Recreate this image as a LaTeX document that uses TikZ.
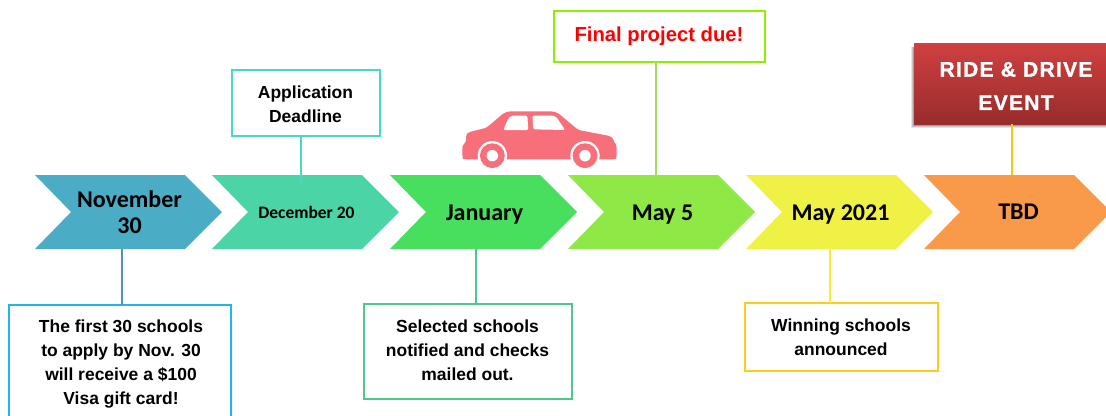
\documentclass[tikz,border=0pt]{standalone}
\usepackage{fontspec}
\setmainfont{Liberation Sans}
\newfontfamily\chevfont{Carlito}
\newfontfamily\ridefont[LetterSpace=6,FakeBold=1.2]{Liberation Sans Bold}
\definecolor{cA}{HTML}{4BACC6}
\definecolor{cB}{HTML}{4BD4A6}
\definecolor{cC}{HTML}{48DE5E}
\definecolor{cD}{HTML}{8EE845}
\definecolor{cE}{HTML}{EFF145}
\definecolor{cF}{HTML}{F99A4A}
\definecolor{carpink}{HTML}{F76F7A}
\definecolor{redtop}{HTML}{CF4040}
\definecolor{redbot}{HTML}{992C2C}
\definecolor{bordA}{HTML}{1FB5F0}
\definecolor{bordB}{HTML}{4AD6C8}
\definecolor{bordC}{HTML}{4CC98A}
\definecolor{bordD}{HTML}{90EE00}
\definecolor{bordE}{HTML}{FFC91E}
\definecolor{stemA}{HTML}{5B8BC8}
\definecolor{stemD}{HTML}{A2DC62}
\definecolor{stemE}{HTML}{F2EE30}
\definecolor{stemF}{HTML}{F5C518}
\tikzset{
  chevtext/.style={font=\chevfont\bfseries\fontsize{18}{20}\selectfont,text=black,align=center,
    minimum width=140pt,minimum height=55.5pt,inner sep=0pt,outer sep=0pt},
  notebox/.style={draw=#1,line width=1.5pt,fill=white,inner sep=0pt,outer sep=0pt},
  notetext/.style={inner sep=0pt,outer sep=0pt,align=center,
    font=\bfseries\fontsize{13.1}{18}\selectfont,text=black},
  stem/.style={draw=#1,line width=1.5pt},
}
\newcommand{\chevron}[4]{% name, left x, colour, text
  \fill[#3] (#2,175) -- ++(150,0) -- ++(37,37) -- ++(-37,37) -- ++(-150,0) -- ++(36,-37) -- cycle;
  \node[chevtext] (#1) at ([shift={(#2+94.5,212)}]0,0) {#4};
}
\begin{document}
\begin{tikzpicture}[x=.75pt,y=-.75pt]
\useasboundingbox (0,0) rectangle (1106,415);
\clip (0,0) rectangle (1106,415);
\chevron{m1}{35}{cA}{November\\30}
\chevron{m2}{212}{cB}{\fontsize{13.1}{16}\selectfont December 20}
\chevron{m3}{390}{cC}{\rule{0pt}{15pt}January}
\chevron{m4}{568}{cD}{\rule{0pt}{15pt}May 5}
\chevron{m5}{746}{cE}{\rule{0pt}{15pt}May 2021}
\chevron{m6}{924}{cF}{TBD}
% note boxes
\node[notebox=bordA,minimum width=166.5pt,minimum height=87.75pt] (n1) at (120,363.5) {};
\node[notetext] (t1) at (121,364.5)
  {The first 30 schools\\to apply by Nov. 30\\will receive a \$100\\Visa gift card!};
\node[notebox=bordB,minimum width=111pt,minimum height=49.5pt] (n2) at (306,103) {};
\node[notetext] (t2) at (305.5,104) {Application\\Deadline};
\node[notebox=bordC,minimum width=156.5pt,minimum height=71.5pt] (n3) at (468,351.5) {};
\node[notetext] (t3) at (467.5,350) {Selected schools\\notified and checks\\mailed out.};
\node[notebox=bordD,minimum width=158.5pt,minimum height=38.5pt] (n4) at (659.5,36.5) {};
\node[notetext,text=red,font=\bfseries\fontsize{15.2}{18}\selectfont] (t4) at (659,36.5) {Final project due!};
\node[notebox=bordE,minimum width=145pt,minimum height=51pt] (n5) at (841.5,337) {};
\node[notetext] (t5) at (841,337) {Winning schools\\announced};
% shadow and event box
\foreach \g/\o in {3/.10,2/.14,1/.18}
  \fill[black,opacity=\o] (914-\g,47) rectangle (1125,124+\g+1);
\node[minimum width=153.75pt,minimum height=60.75pt,inner sep=0pt,outer sep=0pt,
  top color=redtop,bottom color=redbot] (n6) at (1016.5,83.5) {};
\node[inner sep=0pt,outer sep=0pt,text=white,align=center,
  font=\ridefont\fontsize{15.8}{25}\selectfont] (t6) at (1016,86) {RIDE \& DRIVE\\EVENT};
% connectors
\coordinate (l1) at (122,0);
\coordinate (l2) at (301,0);
\coordinate (l3) at (476,0);
\coordinate (l4) at (656,0);
\coordinate (l5) at (830,0);
\coordinate (l6) at (1012,0);
\draw[stem=stemA] (m1.south -| l1) -- (n1.north -| l1);
\draw[stem=bordB] (n2.south -| l2) -- ([yshift=-7pt]m2.north -| l2);
\draw[stem=bordC] (m3.south -| l3) -- (n3.north -| l3);
\draw[stem=stemD] (n4.south -| l4) -- (m4.north -| l4);
\draw[stem=stemE] (m5.south -| l5) -- (n5.north -| l5);
\draw[stem=stemF] (n6.south -| l6) -- (m6.north -| l6);
% car
\begin{scope}[shift={(440,90)},x=.25pt,y=-.25pt]
  \fill[carpink,rounded corners=2pt] (67,165) -- (78,158) -- (78,135) -- (85,127) -- (140,113)
    -- (190,70) -- (205,64) -- (340,64) -- (355,70) -- (415,120) -- (510,138) -- (520,145)
    -- (522,158) -- (530,165) -- (530,204) -- (525,208) -- (72,208) -- (67,204) -- cycle;
  \foreach \cx in {157,435} {
    \fill[white] (\cx,197) circle[radius=11pt];
    \fill[carpink] (\cx,197) circle[radius=9.3pt];
    \fill[white] (\cx,197) circle[radius=4.3pt];
  }
  \fill[white,rounded corners=1pt] (190,120) -- (205,85) -- (215,77) -- (262,77) -- (265,120) -- cycle;
  \fill[white,rounded corners=1pt] (277,77) -- (340,77) -- (350,82) -- (375,120) -- (280,118) -- cycle;
\end{scope}
\end{tikzpicture}
\end{document}
